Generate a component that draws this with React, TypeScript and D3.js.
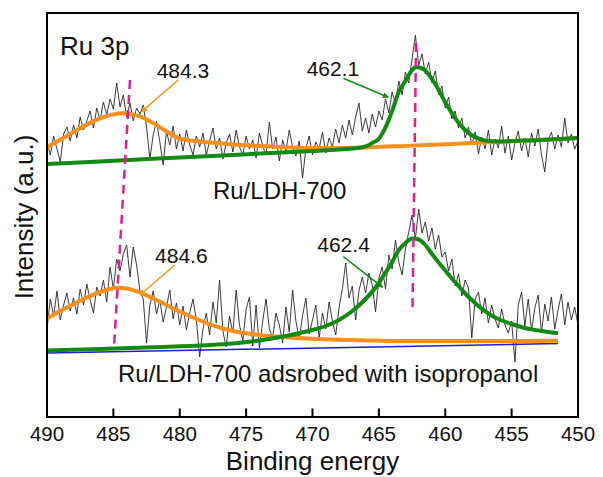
import React from 'react';
import * as d3 from 'd3';

const W = 603;
const H = 477;

// x axis ticks (binding energy, eV)
const xTicks = [490, 485, 480, 475, 470, 465, 460, 455, 450];

// raw spectra sampled from 490 eV down to 450 eV, 0.25 eV apart
const rawStart = 490;
const rawStep = 0.25;

const topRaw = [
  276, 262, 281, 268, 255, 283, 290, 276,
  292, 279, 300, 287, 296, 306, 289, 309,
  297, 315, 302, 318, 308, 334, 310, 322,
  300, 314, 296, 309, 303, 312, 290, 258,
  282, 296, 275, 252, 286, 272, 291, 268,
  283, 266, 287, 272, 262, 281, 270, 284,
  262, 276, 289, 268, 279, 258, 274, 283,
  265, 287, 270, 262, 281, 268, 277, 259,
  284, 271, 262, 295, 268, 280, 256, 277,
  266, 287, 270, 261, 276, 239, 268, 281,
  262, 275, 268, 285, 264, 279, 270, 288,
  274, 292, 279, 297, 282, 300, 314, 286,
  299, 284, 303, 290, 306, 297, 318, 304,
  325, 313, 336, 322, 345, 334, 358, 382,
  352, 363, 343, 355, 334, 346, 322, 331,
  309, 320, 298, 306, 289, 299, 279, 290,
  272, 285, 263, 280, 268, 287, 262, 278,
  269, 291, 264, 281, 257, 274, 286, 266,
  279, 260, 284, 271, 288, 262, 245, 277,
  285, 268, 282, 270, 299, 274, 283, 268,
  276,
];

const bottomRaw = [
  88, 118, 101, 126, 97, 112, 124, 106,
  119, 103, 128, 112, 133, 117, 104, 130,
  121, 137, 115, 150, 128, 158, 146, 163,
  172, 140, 170, 152, 126, 118, 74, 112,
  126, 103, 117, 95, 110, 127, 98, 114,
  92, 111, 87, 104, 118, 97, 60, 88,
  104, 82, 115, 94, 137, 86, 70, 101,
  84, 127, 92, 76, 108, 120, 71, 112,
  69, 96, 118, 88, 79, 104, 92, 74,
  110, 85, 127, 96, 78, 101, 119, 83,
  97, 112, 79, 104, 88, 115, 96, 82,
  109, 128, 154, 119, 131, 97, 126, 140,
  124, 144, 132, 105, 139, 150, 128, 162,
  148, 177, 155, 142, 168, 185, 202, 178,
  208, 184, 195, 176, 189, 168, 182, 160,
  165, 146, 158, 131, 143, 121, 137, 129,
  79, 118, 125, 103, 119, 94, 112, 98,
  89, 108, 92, 84, 96, 55, 112, 125,
  91, 118, 86, 109, 122, 84, 113, 96,
  120, 88, 107, 123, 92, 115, 97, 110,
  92,
];

// fitted curves: [binding energy, intensity]
const topBase: [number, number][] = [[490, 253], [450, 279]];
const topOrange: [number, number][] = [
  [490, 269.7], [489, 277.2], [488, 284.9], [487, 292.4], [486, 298.6], [485, 302.6],
  [484.3, 303.7], [484, 303.6], [483, 300.6], [482, 293.9], [481, 285.6], [480, 278.5],
  [479, 276.2], [478, 274.8], [477, 273.8], [476, 272.6], [475, 271.8], [474, 270.9],
  [472, 269.7], [470, 269], [468, 269.1], [466, 269.6], [463, 271.1], [460, 272.7],
  [455, 275.8], [450, 279],
];
const topGreen: [number, number][] = [
  [490, 253], [486, 255.6], [482, 258.2], [478, 260.8], [474, 263.4], [470, 266],
  [468, 267.5], [467, 268.5], [466, 270.6], [465.5, 274], [465, 278.3], [464.5, 289.6],
  [464, 306], [463.5, 325.2], [463, 336], [462.5, 346.9], [462.2, 350.1], [462, 349.7],
  [461.5, 346.5], [461, 337.9], [460.5, 327.2], [460, 314.5], [459.5, 303.8], [459, 294.2],
  [458.5, 287], [458, 281.8], [457.5, 278.6], [457, 276.5], [456, 275.6], [454, 276.4],
  [450, 279],
];

const bottomBase: [number, number][] = [[490, 64], [451.5, 73.5]];
const bottomOrange: [number, number][] = [
  [490, 98.7], [489, 106], [488, 113], [487, 119.5], [486, 125], [485, 128.8],
  [484.8, 129.3], [484, 128.5], [483, 124.5], [482, 118.5], [481, 112], [480, 105.5],
  [479, 99.5], [478, 94], [477, 89.5], [476, 86], [475, 83.7], [474, 82], [472, 79.8],
  [470, 78.2], [468, 77.2], [466, 76.6], [464, 76.1], [460, 76], [456, 76], [451.5, 76.3],
];
const bottomGreen: [number, number][] = [
  [490, 66.5], [486, 68], [482, 69.8], [478, 71.8], [476, 73.5], [474, 76.5], [472, 81],
  [470, 87], [469, 91], [468, 97], [467, 106], [466, 118], [465, 134], [464.5, 144.5],
  [464, 155], [463.5, 167], [463, 174], [462.5, 178.5], [462, 177.5], [461.5, 172],
  [461, 163], [460.5, 154.5], [460, 146.5], [459.5, 138.5], [459, 131], [458.5, 123.5],
  [458, 117], [457.5, 111], [457, 106], [456.5, 101.5], [456, 98], [455, 93], [454, 89],
  [453, 86.5], [452, 84.5], [451.5, 83.7],
];

// peak-position guide lines (dashed): [[e1, v1], [e2, v2]]
const guideLines: [number, number][][] = [
  [[483.75, 337], [484.95, 70]],
  [[462.2, 374], [462.47, 104]],
];

// peak labels with arrows
const peakLabels = [
  { text: '484.3', at: [481.74, 338.7], from: [480.11, 337], to: [482.87, 305.3], color: '#f39c1e' },
  { text: '462.1', at: [470.44, 341], from: [467.68, 338.7], to: [464.29, 319.7], color: '#1b8a1b' },
  { text: '484.6', at: [481.86, 154.3], from: [480.36, 152], to: [483.0, 122], color: '#f39c1e' },
  { text: '462.4', at: [469.64, 165.3], from: [467.68, 160.3], to: [464.71, 129.7], color: '#1b8a1b' },
];

const textLabels = [
  { text: 'Ru 3p', at: [489.02, 362], size: 26 },
  { text: 'Ru/LDH-700', at: [477.5, 218], size: 24 },
  { text: 'Ru/LDH-700 adsrobed with isopropanol', at: [484.65, 35], size: 24 },
];

const margin = { left: 47, right: 578, top: 13, bottom: 417 };

export default function App() {
  const x = d3.scaleLinear().domain([490, 450]).range([margin.left, margin.right]);
  const y = d3.scaleLinear().domain([0, 404]).range([margin.bottom, margin.top]);

  const rawLine = d3
    .line<number>()
    .x((_, i) => x(rawStart - i * rawStep))
    .y((d) => y(d));

  const fitLine = d3
    .line<[number, number]>()
    .x((d) => x(d[0]))
    .y((d) => y(d[1]))
    .curve(d3.curveMonotoneX);

  const font = 'Arial, "Liberation Sans", sans-serif';
  const orange = '#f7901e';
  const green = '#138a13';
  const blue = '#1e1ed2';

  return (
    <svg
      width={W}
      height={H}
      style={{ position: 'absolute', left: 0, top: 0, background: '#fff' }}
      fontFamily={font}
    >
      <defs>
        {peakLabels.map((p, i) => (
          <marker
            key={i}
            id={`arr${i}`}
            viewBox="0 0 10 10"
            refX="9"
            refY="5"
            markerWidth="6"
            markerHeight="6"
            orient="auto"
            markerUnits="userSpaceOnUse"
          >
            <path d="M0,0 L10,5 L0,10 z" fill={p.color} />
          </marker>
        ))}
        <clipPath id="plot">
          <rect x={margin.left} y={margin.top} width={margin.right - margin.left} height={margin.bottom - margin.top} />
        </clipPath>
      </defs>

      <g clipPath="url(#plot)">
        <path d={rawLine(topRaw) || ''} fill="none" stroke="#262626" strokeWidth={0.9} />
        <path d={rawLine(bottomRaw) || ''} fill="none" stroke="#262626" strokeWidth={0.9} />

        <path d={fitLine(topBase) || ''} fill="none" stroke={blue} strokeWidth={1.5} />
        <path d={fitLine(bottomBase) || ''} fill="none" stroke={blue} strokeWidth={1.5} />
        <path d={fitLine(topOrange) || ''} fill="none" stroke={orange} strokeWidth={4} />
        <path d={fitLine(bottomOrange) || ''} fill="none" stroke={orange} strokeWidth={4} />
        <path d={fitLine(topGreen) || ''} fill="none" stroke={green} strokeWidth={4} />
        <path d={fitLine(bottomGreen) || ''} fill="none" stroke={green} strokeWidth={4} />

        {guideLines.map((g, i) => (
          <line
            key={i}
            x1={x(g[0][0])}
            y1={y(g[0][1])}
            x2={x(g[1][0])}
            y2={y(g[1][1])}
            stroke="#e0208f"
            strokeWidth={2.5}
            strokeDasharray="9,6"
          />
        ))}
      </g>

      {peakLabels.map((p, i) => (
        <g key={i}>
          <line
            x1={x(p.from[0])}
            y1={y(p.from[1])}
            x2={x(p.to[0])}
            y2={y(p.to[1])}
            stroke={p.color}
            strokeWidth={1.6}
            markerEnd={`url(#arr${i})`}
          />
          <text x={x(p.at[0])} y={y(p.at[1])} fontSize={21} fill="#111">
            {p.text}
          </text>
        </g>
      ))}

      {textLabels.map((t, i) => (
        <text key={i} x={x(t.at[0])} y={y(t.at[1])} fontSize={t.size} fill="#111">
          {t.text}
        </text>
      ))}

      {/* frame */}
      <rect
        x={margin.left}
        y={margin.top}
        width={margin.right - margin.left}
        height={margin.bottom - margin.top}
        fill="none"
        stroke="#000"
        strokeWidth={2}
      />

      {/* bottom ticks */}
      {xTicks.map((t) => (
        <g key={t}>
          <line x1={x(t)} x2={x(t)} y1={margin.bottom} y2={margin.bottom - 8.5} stroke="#000" strokeWidth={2} />
          <text x={x(t)} y={441} fontSize={20.5} textAnchor="middle" fill="#111">
            {t}
          </text>
        </g>
      ))}

      <text x={(margin.left + margin.right) / 2} y={470} fontSize={26} textAnchor="middle" fill="#111">
        Binding energy
      </text>
      <text
        transform={`translate(33,${(margin.top + margin.bottom) / 2 + 2}) rotate(-90)`}
        fontSize={26}
        textAnchor="middle"
        fill="#111"
      >
        Intensity (a.u.)
      </text>
    </svg>
  );
}
